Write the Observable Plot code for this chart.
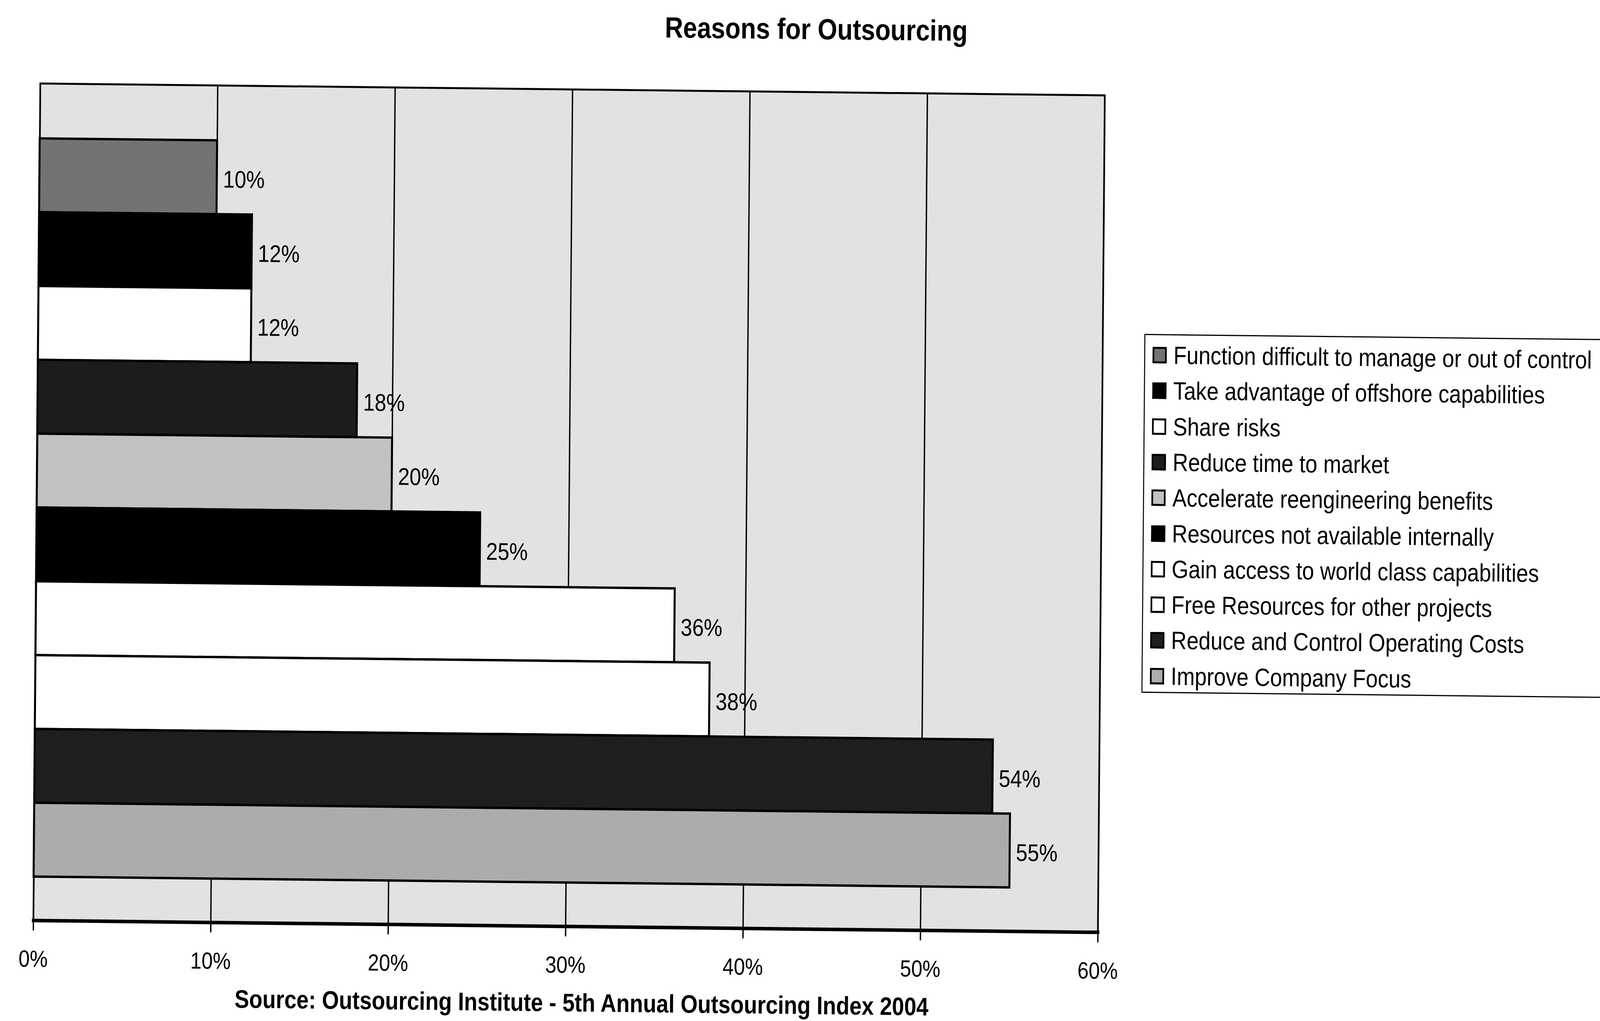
<!DOCTYPE html>
<html>
<head>
<meta charset="utf-8">
<script src="https://cdn.jsdelivr.net/npm/d3@7"></script>
<script src="https://cdn.jsdelivr.net/npm/@observablehq/plot@0.6"></script>
<style>
  html, body { margin: 0; padding: 0; background: #fff; overflow: hidden; width: 100%; height: 100%; }
  body { font-family: "Liberation Sans", Arial, sans-serif; color: #000; }
  #outer { position: absolute; top: 0; left: 0; width: 4757px; height: 2614px; transform-origin: 0 0; overflow: hidden; }
  #wrap { position: absolute; top: 0; left: 0; width: 4757px; height: 2614px; transform-origin: 2378px 1307px; transform: rotate(0.55deg); }
  #title { position: absolute; top: 36px; left: 2415px; transform: translateX(-50%); font-weight: bold; font-size: 75px; line-height: 76px; white-space: nowrap; }
  #chart { position: absolute; top: 0; left: 0; }
  #caption { position: absolute; top: 2546px; left: 1741px; transform: translateX(-50%); font-weight: bold; font-size: 65px; line-height: 56px; white-space: nowrap; }
  #legend { position: absolute; left: 3398px; top: 845px; width: 1420px; height: 919px; border: 3px solid #000; box-sizing: border-box; background: #fff; }
  .item { position: absolute; left: 22px; height: 70px; display: flex; align-items: center; font-size: 64px; line-height: 70px; white-space: nowrap; }
  .sw { width: 32px; height: 32px; border: 5px solid #000; margin-right: 20px; flex: none; }
</style>
</head>
<body>
<div id="outer">
<div id="wrap">
  <div id="title"></div>
  <div id="chart"></div>
  <div id="legend"></div>
  <div id="caption"></div>
</div>
</div>
<script>
const titleText = "Reasons for Outsourcing";
const captionText = "Source: Outsourcing Institute - 5th Annual Outsourcing Index 2004";
const reasons = [
  "Function difficult to manage or out of control",
  "Take advantage of offshore capabilities",
  "Share risks",
  "Reduce time to market",
  "Accelerate reengineering benefits",
  "Resources not available internally",
  "Gain access to world class capabilities",
  "Free Resources for other projects",
  "Reduce and Control Operating Costs",
  "Improve Company Focus"
];
const percents = [10, 12, 12, 18, 20, 25, 36, 38, 54, 55];
const fills = ["#737373", "#000000", "#ffffff", "#1c1c1c", "#c2c2c2", "#000000", "#ffffff", "#ffffff", "#1e1e1e", "#acacac"];
const xTicks = [0, 10, 20, 30, 40, 50, 60];

const data = reasons.map((r, i) => ({reason: r, value: percents[i], fill: fills[i]}));

document.getElementById("title").textContent = titleText;
document.getElementById("caption").textContent = captionText;

const W = 3400, H = 2540;
const chart = Plot.plot({
  width: W,
  height: H,
  marginLeft: 109,
  marginRight: W - 3274,
  marginTop: 235,
  marginBottom: H - 2378,
  style: {fontFamily: "'Liberation Sans', Arial, sans-serif", background: "transparent", color: "#000", overflow: "visible"},
  x: {domain: [0, 60], axis: null},
  y: {domain: reasons, range: [375, 2267], padding: 0, axis: null},
  marks: [
    Plot.frame({fill: "#e2e2e2", stroke: "#000", strokeWidth: 5}),
    Plot.gridX(xTicks.slice(1, -1), {stroke: "#000", strokeOpacity: 1, strokeWidth: 4}),
    Plot.barX(data, {x: "value", y: "reason", fill: "fill", stroke: "#000", strokeWidth: 6}),
    Plot.text(data, {x: "value", y: "reason", text: d => d.value + "%", textAnchor: "start", dx: 18, dy: 6, fontSize: 62, fill: "#000"}),
    Plot.frame({anchor: "bottom", stroke: "#000", strokeWidth: 9}),
    Plot.axisX({ticks: xTicks, tickFormat: d => d + "%", label: null, tickSize: 26, tickPadding: 50, fontSize: 60, stroke: "#000", strokeWidth: 4})
  ]
});
document.getElementById("chart").appendChild(chart);

const legend = document.getElementById("legend");
reasons.forEach((r, i) => {
  const it = document.createElement("div");
  it.className = "item";
  it.style.top = (51 + i * 91.3 - 35) + "px";
  const sw = document.createElement("div");
  sw.className = "sw";
  sw.style.background = fills[i];
  const t = document.createElement("span");
  t.textContent = r;
  it.appendChild(sw);
  it.appendChild(t);
  legend.appendChild(it);
});

function fit() {
  const sx = window.innerWidth / 4757, sy = window.innerHeight / 2614;
  document.getElementById("outer").style.transform = "scale(" + sx + "," + sy + ")";
}
fit();
window.addEventListener("resize", fit);
</script>
</body>
</html>
